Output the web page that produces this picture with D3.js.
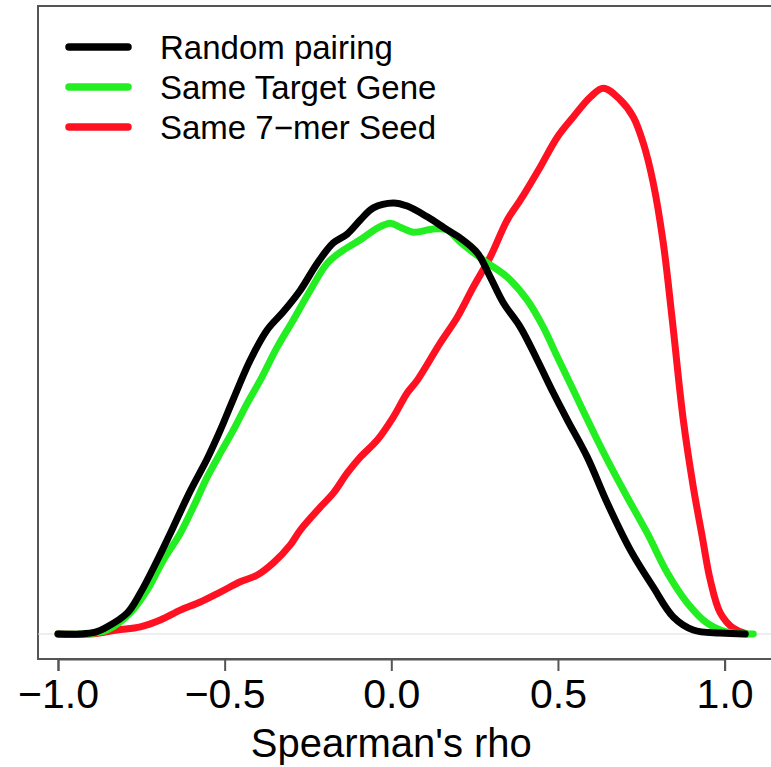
<!DOCTYPE html>
<html>
<head>
<meta charset="utf-8">
<script src="https://cdn.jsdelivr.net/npm/d3@7"></script>
<style>
  html, body { margin: 0; padding: 0; background: #fff; }
  svg { display: block; font-family: "Liberation Sans", Arial, Helvetica, sans-serif; }
</style>
</head>
<body>
<svg id="chart" width="771" height="767"></svg>
<script>
// ---- data (rho, density) ----
const seriesNames = ["Random pairing", "Same Target Gene", "Same 7\u2212mer Seed"];
const seriesColors = ["#000000", "#22ee22", "#ff1122"];

const randomRho = [-1.0,-0.933,-0.888,-0.852,-0.792,-0.753,-0.702,-0.654,-0.603,-0.552,-0.513,-0.474,-0.423,-0.372,-0.324,-0.273,-0.222,-0.174,-0.132,-0.093,-0.054,0.006,0.048,0.108,0.168,0.207,0.258,0.297,0.336,0.387,0.438,0.486,0.528,0.588,0.648,0.717,0.786,0.846,0.906,0.987,1.062];
const randomDens = [0,0,0.004,0.016,0.047,0.091,0.164,0.238,0.318,0.390,0.453,0.522,0.609,0.676,0.716,0.764,0.824,0.869,0.889,0.920,0.947,0.958,0.951,0.927,0.898,0.880,0.847,0.793,0.736,0.682,0.609,0.536,0.476,0.393,0.291,0.187,0.104,0.038,0.009,0.002,0];

const targetRho = [-1.0,-0.933,-0.852,-0.783,-0.732,-0.684,-0.633,-0.594,-0.552,-0.513,-0.474,-0.432,-0.393,-0.342,-0.294,-0.243,-0.192,-0.144,-0.093,-0.042,-0.003,0.027,0.066,0.126,0.168,0.207,0.276,0.348,0.408,0.456,0.498,0.546,0.618,0.648,0.708,0.768,0.828,0.888,0.948,1.008,1.086];
const targetDens = [0,0,0.009,0.047,0.098,0.164,0.224,0.282,0.349,0.402,0.453,0.513,0.564,0.638,0.698,0.764,0.824,0.853,0.876,0.902,0.913,0.904,0.893,0.900,0.898,0.871,0.831,0.793,0.742,0.682,0.616,0.542,0.431,0.387,0.304,0.224,0.136,0.069,0.024,0.004,0];

const seedRho = [-1.0,-0.903,-0.822,-0.753,-0.693,-0.633,-0.573,-0.513,-0.453,-0.402,-0.354,-0.303,-0.273,-0.213,-0.174,-0.132,-0.093,-0.042,0.006,0.048,0.078,0.147,0.198,0.246,0.297,0.348,0.387,0.447,0.498,0.546,0.597,0.636,0.687,0.726,0.756,0.786,0.816,0.843,0.876,0.906,0.933,0.957,0.987,1.026,1.068];
const seedDens = [0,0,0.009,0.016,0.031,0.053,0.071,0.093,0.116,0.131,0.158,0.198,0.231,0.282,0.313,0.358,0.393,0.431,0.482,0.536,0.564,0.647,0.704,0.771,0.838,0.920,0.964,1.038,1.104,1.149,1.193,1.213,1.187,1.149,1.091,1.002,0.869,0.698,0.476,0.327,0.216,0.120,0.047,0.013,0];

const xTicks = [-1.0, -0.5, 0.0, 0.5, 1.0];
const xLabel = "Spearman's rho";

// ---- drawing ----
const svg = d3.select("#chart");
const x = d3.scaleLinear().domain([-1, 1]).range([58, 724.6]);
const y = d3.scaleLinear().domain([0, 1]).range([634, 184]);

// plot frame (right side runs off the image)
svg.append("rect")
  .attr("x", 38).attr("y", 6).attr("width", 800).attr("height", 653)
  .attr("fill", "none").attr("stroke", "#555").attr("stroke-width", 2);

// zero baseline
svg.append("line")
  .attr("x1", 38).attr("x2", 771).attr("y1", y(0)).attr("y2", y(0))
  .attr("stroke", "#dddddd").attr("stroke-width", 1.2);

// x axis
const xAxis = d3.axisBottom(x).tickValues(xTicks).tickFormat(d3.format(".1f")).tickSize(12).tickPadding(8);
const gx = svg.append("g").attr("transform", "translate(0,659)").call(xAxis);
gx.select(".domain").attr("stroke", "#555").attr("stroke-width", 2);
gx.selectAll(".tick line").attr("stroke", "#555").attr("stroke-width", 2);
gx.selectAll(".tick text").attr("font-size", 41).attr("fill", "#000")
  .attr("font-family", "Liberation Sans, Arial, sans-serif");

svg.append("text")
  .attr("x", x(0)).attr("y", 757)
  .attr("text-anchor", "middle").attr("font-size", 40).attr("fill", "#000")
  .text(xLabel);

// curves
const data = [
  randomRho.map((r, i) => [r, randomDens[i]]),
  targetRho.map((r, i) => [r, targetDens[i]]),
  seedRho.map((r, i) => [r, seedDens[i]])
];
const line = d3.line().x(d => x(d[0])).y(d => y(d[1])).curve(d3.curveCatmullRom.alpha(0.5));
[2, 1, 0].forEach(k => {
  svg.append("path")
    .attr("d", line(data[k]))
    .attr("fill", "none").attr("stroke", seriesColors[k])
    .attr("stroke-width", 7).attr("stroke-linecap", "round").attr("stroke-linejoin", "round");
});

// legend
const legendY = [47, 87, 127];
seriesNames.forEach((name, i) => {
  svg.append("line")
    .attr("x1", 69).attr("x2", 128).attr("y1", legendY[i]).attr("y2", legendY[i])
    .attr("stroke", seriesColors[i]).attr("stroke-width", 7.5).attr("stroke-linecap", "round");
  svg.append("text")
    .attr("x", 160).attr("y", legendY[i] + 12)
    .attr("font-size", 33).attr("fill", "#000")
    .text(name);
});
</script>
</body>
</html>
